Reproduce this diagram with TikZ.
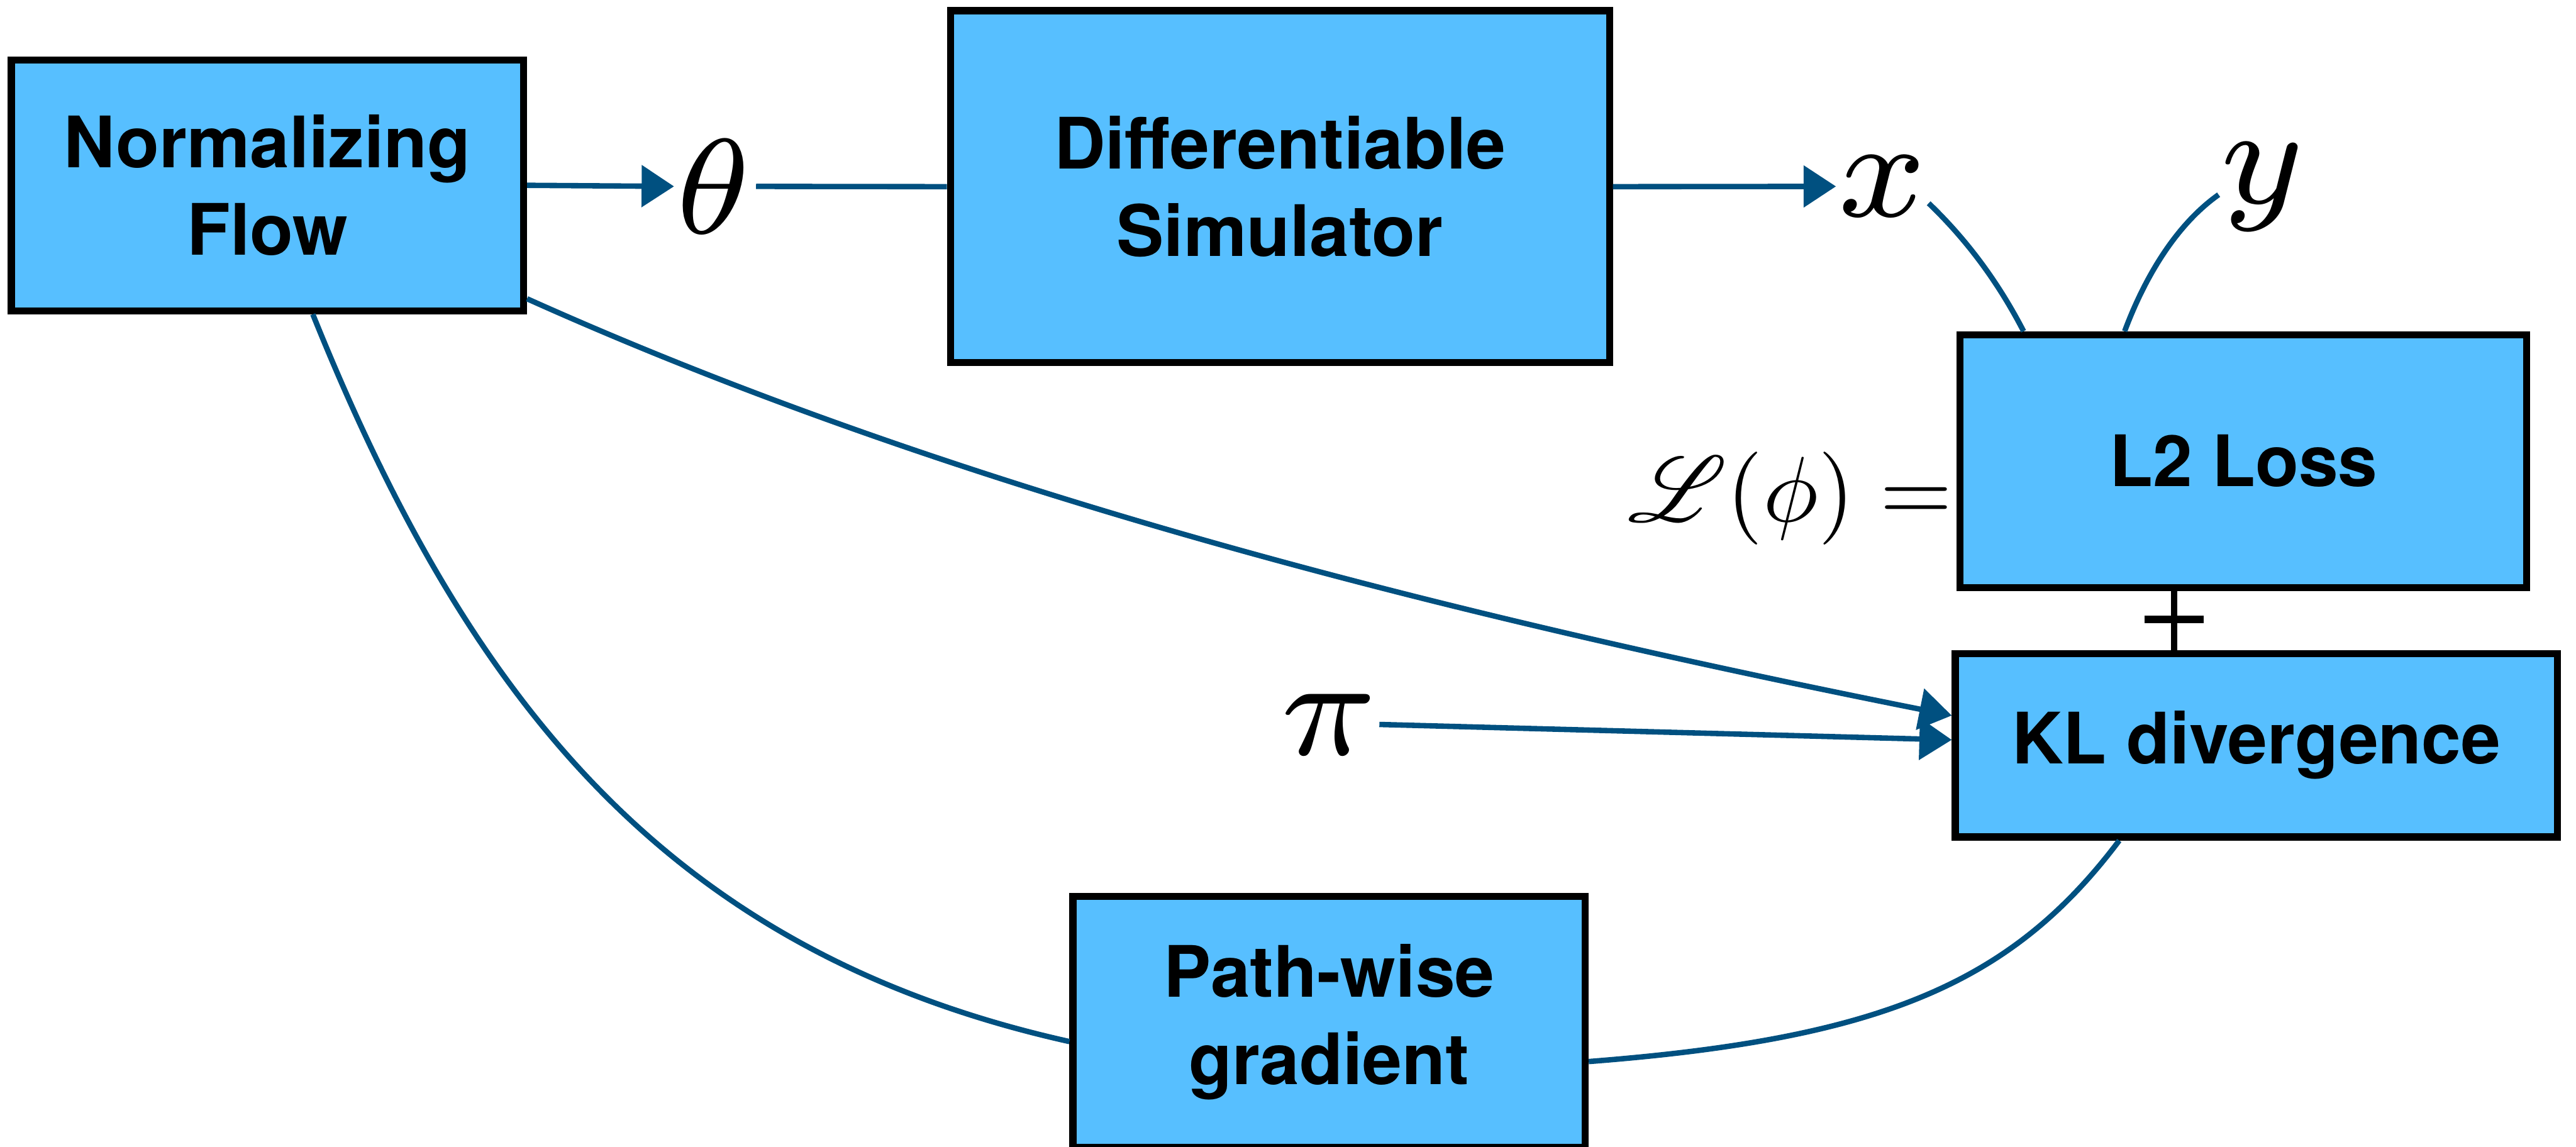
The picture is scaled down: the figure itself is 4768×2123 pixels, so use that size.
\documentclass[tikz,border=0pt]{standalone}
\usepackage{fontspec}
\setmainfont{TeX Gyre Heros}
\usepackage{mathrsfs}
\usepackage{graphicx}
\usetikzlibrary{arrows.meta,calc}
\definecolor{boxblue}{HTML}{57BFFF}
\definecolor{linkblue}{HTML}{005080}
\begin{document}
\begin{tikzpicture}[x=0.005cm,y=-0.005cm,
  blockbox/.style={draw=black, line width=0.065cm, fill=boxblue, inner sep=0pt,
    align=center, font=\fontsize{18.7}{23.1}\selectfont\bfseries},
  conn/.style={draw=linkblue, line width=0.05cm},
  arr/.style={conn, -{Triangle[length=0.30cm,width=0.38cm]}},
  lbl/.style={inner sep=0pt},
  plusline/.style={draw=black, line width=0.06cm}]
\useasboundingbox (0,0) rectangle (4768,2123);
\clip (0,0) rectangle (4768,2123);

% boxes
\node[blockbox, minimum width=4.745cm, minimum height=2.325cm] (nf) at (495,343) {Normalizing\\Flow};
\node[blockbox, minimum width=6.105cm, minimum height=3.26cm] (ds) at (2369,345.5) {Differentiable\\Simulator};
\node[blockbox, minimum width=5.25cm, minimum height=2.34cm] (l2) at (4152.5,853.5) {L2 Loss};
\node[blockbox, minimum width=5.58cm, minimum height=1.70cm] (kl) at (4176.5,1379.5) {KL divergence};
\node[blockbox, minimum width=4.745cm, minimum height=2.325cm] (pg) at (2460,1892) {Path-wise\\gradient};

% math labels
\node[lbl] (theta) at (1321,345) {\scalebox{5.1}{$\scriptstyle\theta$}};
\node[lbl] (pi) at (2460,1341) {\scalebox{5.3}{$\scriptstyle\pi$}};
\node[lbl] (xl) at (3484,345) {\scalebox{5.3}{$\scriptstyle x$}};
\node[lbl] (yl) at (4188,346) {\scalebox{5.3}{$\scriptstyle y$}};
\node[lbl, anchor=base east] (loss) at ($(l2.west)+(-6,112)$) {\scalebox{2.45}{$\mathscr{L}(\phi) =$}};

% connectors
\draw[arr] (nf.east) -- (theta.west);
\draw[conn, shorten <=0.025cm] (theta.east) -- (ds.west);
\draw[arr] (ds.east) -- (xl.west);
\draw[conn] (xl.-20) .. controls +(72,69) and +(-46,-89) .. ($(l2.north west)+(124,0)$);
\draw[conn] (yl.190) .. controls +(-82,58) and +(35,-94) .. ($(l2.north west)+(311,0)$);

\coordinate (plusc) at (4024,1146);
\draw[plusline] (plusc |- l2.south) -- (plusc |- kl.north);
\draw[plusline, line width=0.07cm] ($(plusc)+(-55,0)$) -- ($(plusc)+(55,0)$);

\draw[arr] ($(nf.east)+(0,210)$) .. controls +(821,369) and +(-882,-176) .. ($(kl.west)+(0,-55)$);
\draw[arr] (pi.east) -- ($(kl.west)+(0,-10)$);
\draw[conn] ($(nf.south)+(84,0)$) .. controls +(290,720) and +(-740,-165) .. ($(pg.west)+(0,36)$);
\draw[conn] ($(kl.south)+(-254,0)$) .. controls +(-200,266) and +(540,-42) .. ($(pg.east)+(0,73)$);
\end{tikzpicture}
\end{document}
